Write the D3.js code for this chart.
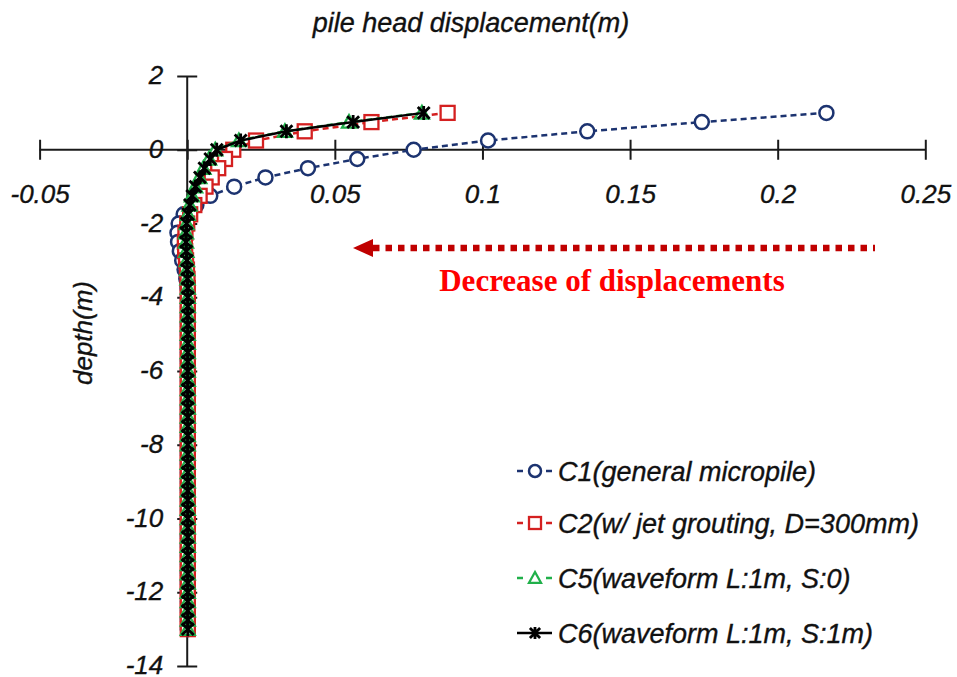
<!DOCTYPE html>
<html>
<head>
<meta charset="utf-8">
<script src="https://cdn.jsdelivr.net/npm/d3@7"></script>
<style>
	body { margin: 0; background: #fff; }
	svg { display: block; }
	.lbl { font-family: "Liberation Sans", Arial, sans-serif; font-style: italic; fill: #111; stroke: #111; stroke-width: 0.35px; }
</style>
</head>
<body>
<svg id="chart" width="957" height="677"></svg>
<script>
// depth (m) of each output node, same for all cases
const depths = [1, 0.75, 0.5, 0.25, 0, -0.25, -0.5, -0.75, -1, -1.25, -1.5, -1.75, -2, -2.25, -2.5, -2.75,
	-3, -3.25, -3.5, -3.75, -4, -4.25, -4.5, -4.75, -5, -5.25, -5.5, -5.75, -6, -6.25, -6.5, -6.75,
	-7, -7.25, -7.5, -7.75, -8, -8.25, -8.5, -8.75, -9, -9.25, -9.5, -9.75, -10, -10.25, -10.5, -10.75,
	-11, -11.25, -11.5, -11.75, -12, -12.25, -12.5, -12.75, -13];

// horizontal displacement (m)
const c1 = [0.2165, 0.1743, 0.1355, 0.1019, 0.0767, 0.0576, 0.0409, 0.0265, 0.0159, 0.0078, 0.0031, -0.0012, -0.0029, -0.0033, -0.0031, -0.0025,
	-0.0017, -0.0009, -0.0003, 0.0001, 0.0002, 0.0002, 0.0002, 0.0002, 0.0002, 0.0002, 0.0002, 0.0002, 0.0002, 0.0002, 0.0002, 0.0002,
	0.0002, 0.0002, 0.0002, 0.0002, 0.0002, 0.0002, 0.0002, 0.0002, 0.0002, 0.0002, 0.0002, 0.0002, 0.0002, 0.0002, 0.0002, 0.0002,
	0.0002, 0.0002, 0.0002, 0.0002, 0.0002, 0.0002, 0.0002, 0.0002, 0.0002];
const c2 = [0.0882, 0.0624, 0.0398, 0.0233, 0.0156, 0.0128, 0.0105, 0.0083, 0.0062, 0.0042, 0.0024, 0.0010, 0.0000, -0.0006, -0.0008, -0.0007,
	-0.0004, -0.0001, 0.0001, 0.0002, 0.0002, 0.0002, 0.0002, 0.0002, 0.0002, 0.0002, 0.0002, 0.0002, 0.0002, 0.0002, 0.0002, 0.0002,
	0.0002, 0.0002, 0.0002, 0.0002, 0.0002, 0.0002, 0.0002, 0.0002, 0.0002, 0.0002, 0.0002, 0.0002, 0.0002, 0.0002, 0.0002, 0.0002,
	0.0002, 0.0002, 0.0002, 0.0002, 0.0002, 0.0002, 0.0002, 0.0002, 0.0002];
const c5 = [0.0795, 0.0548, 0.0331, 0.0175, 0.0095, 0.0074, 0.0055, 0.0041, 0.0027, 0.0016, 0.0008, 0.0002, -0.0002, -0.0004, -0.0004, -0.0003,
	-0.0001, 0.0000, 0.0001, 0.0002, 0.0002, 0.0002, 0.0002, 0.0002, 0.0002, 0.0002, 0.0002, 0.0002, 0.0002, 0.0002, 0.0002, 0.0002,
	0.0002, 0.0002, 0.0002, 0.0002, 0.0002, 0.0002, 0.0002, 0.0002, 0.0002, 0.0002, 0.0002, 0.0002, 0.0002, 0.0002, 0.0002, 0.0002,
	0.0002, 0.0002, 0.0002, 0.0002, 0.0002, 0.0002, 0.0002, 0.0002, 0.0002];
const c6 = [0.0801, 0.0562, 0.0336, 0.0181, 0.0100, 0.0078, 0.0058, 0.0043, 0.0028, 0.0017, 0.0009, 0.0003, -0.0002, -0.0004, -0.0004, -0.0003,
	-0.0001, 0.0000, 0.0001, 0.0002, 0.0002, 0.0002, 0.0002, 0.0002, 0.0002, 0.0002, 0.0002, 0.0002, 0.0002, 0.0002, 0.0002, 0.0002,
	0.0002, 0.0002, 0.0002, 0.0002, 0.0002, 0.0002, 0.0002, 0.0002, 0.0002, 0.0002, 0.0002, 0.0002, 0.0002, 0.0002, 0.0002, 0.0002,
	0.0002, 0.0002, 0.0002, 0.0002, 0.0002, 0.0002, 0.0002, 0.0002, 0.0002];

const seriesNames = ["C1(general micropile)", "C2(w/ jet grouting, D=300mm)", "C5(waveform L:1m, S:0)", "C6(waveform L:1m, S:1m)"];
const xTicks = [-0.05, 0, 0.05, 0.1, 0.15, 0.2, 0.25];
const xTickLabels = ["-0.05", "", "0.05", "0.1", "0.15", "0.2", "0.25"];
const yTicks = [2, 0, -2, -4, -6, -8, -10, -12, -14];
const yTickLabels = ["2", "0", "-2", "-4", "-6", "-8", "-10", "-12", "-14"];

const svg = d3.select("#chart");

const x = d3.scaleLinear().domain([-0.05, 0.25]).range([39.6, 925.3]);
const y = d3.scaleLinear().domain([-14, 2]).range([666, 76]);

const series = [
	{ name: seriesNames[0], values: c1, color: "#1c3370", dash: "6,4", marker: "circle" },
	{ name: seriesNames[1], values: c2, color: "#d42020", dash: "6,4", marker: "square" },
	{ name: seriesNames[2], values: c5, color: "#20b04a", dash: "6,4", marker: "triangle" },
	{ name: seriesNames[3], values: c6, color: "#000000", dash: null, marker: "star" },
];

// marker drawing, s = half size
function drawMarker(g, type, color, s) {
	if (type === "circle") {
		g.append("circle").attr("r", s).attr("fill", "#fff").attr("stroke", color).attr("stroke-width", 2.5);
	} else if (type === "square") {
		g.append("rect").attr("x", -s).attr("y", -s).attr("width", 2 * s).attr("height", 2 * s)
			.attr("fill", "#fff").attr("stroke", color).attr("stroke-width", 2.3);
	} else if (type === "triangle") {
		g.append("path").attr("d", `M0,${-s}L${s},${s * 0.8}L${-s},${s * 0.8}Z`)
			.attr("fill", "#fff").attr("stroke", color).attr("stroke-width", 2.3);
	} else {
		const d = s * 0.85;
		g.append("path").attr("d", `M0,${-s}V${s}M${-d},${-d}L${d},${d}M${-d},${d}L${d},${-d}`)
			.attr("fill", "none").attr("stroke", color).attr("stroke-width", 2.8);
	}
}

// axes crossing at the origin
const xAxis = svg.append("g")
	.attr("transform", `translate(0,${y(0)})`)
	.call(d3.axisBottom(x).tickValues(xTicks).tickSize(10).tickFormat((d, i) => xTickLabels[i]));
xAxis.select(".domain").remove();
xAxis.selectAll(".tick line").attr("y1", -10).attr("y2", 10).attr("stroke", "#1a1a1a").attr("stroke-width", 2);
xAxis.selectAll(".tick text").attr("class", "lbl").attr("font-size", 26).attr("y", 53).attr("dy", 0);
xAxis.append("line").attr("x1", x(-0.05)).attr("x2", x(0.25)).attr("stroke", "#1a1a1a").attr("stroke-width", 2);

const yAxis = svg.append("g")
	.attr("transform", `translate(${x(0)},0)`)
	.call(d3.axisLeft(y).tickValues(yTicks).tickSize(10).tickFormat((d, i) => yTickLabels[i]));
yAxis.select(".domain").remove();
yAxis.selectAll(".tick line").attr("x1", -10).attr("x2", 10).attr("stroke", "#1a1a1a").attr("stroke-width", 2);
yAxis.selectAll(".tick text").attr("class", "lbl").attr("font-size", 26).attr("x", -24).attr("dy", "0.29em");
yAxis.append("line").attr("y1", y(2)).attr("y2", y(-14)).attr("stroke", "#1a1a1a").attr("stroke-width", 2);

// axis titles
svg.append("text").attr("class", "lbl").attr("font-size", 27)
	.attr("x", 471).attr("y", 32).attr("text-anchor", "middle")
	.text("pile head displacement(m)");
svg.append("text").attr("class", "lbl").attr("font-size", 26)
	.attr("transform", "translate(92,333) rotate(-90)").attr("text-anchor", "middle")
	.text("depth(m)");

// lines + markers
const line = d3.line().x((d) => x(d[0])).y((d) => y(d[1]));
series.forEach((s) => {
	const pts = s.values.map((v, i) => [v, depths[i]]);
	svg.append("path").datum(pts)
		.attr("d", line).attr("fill", "none").attr("stroke", s.color)
		.attr("stroke-width", 2.5).attr("stroke-dasharray", s.dash);
	svg.append("g").selectAll("g").data(pts).join("g")
		.attr("transform", (d) => `translate(${x(d[0])},${y(d[1])})`)
		.each(function () { drawMarker(d3.select(this), s.marker, s.color, 7); });
});

// annotation arrow
svg.append("line").attr("x1", 373).attr("x2", 875).attr("y1", 248).attr("y2", 248)
	.attr("stroke", "#c00000").attr("stroke-width", 6.5).attr("stroke-dasharray", "6.5,6");
svg.append("path").attr("d", "M353,248L373,239L373,257Z").attr("fill", "#c00000");
svg.append("text").attr("x", 612).attr("y", 291).attr("text-anchor", "middle")
	.attr("font-family", "'Liberation Serif', 'Times New Roman', serif").attr("font-weight", "bold")
	.attr("font-size", 31).attr("fill", "#ff0000")
	.text("Decrease of displacements");

// legend
const legendY = [471, 523, 578, 633];
const legend = svg.append("g");
series.forEach((s, i) => {
	const g = legend.append("g").attr("transform", `translate(0,${legendY[i]})`);
	g.append("line").attr("x1", 517).attr("x2", 552).attr("stroke", s.color).attr("stroke-width", 2.4)
		.attr("stroke-dasharray", s.dash ? "6,23" : null);
	drawMarker(g.append("g").attr("transform", "translate(535,0)"), s.marker, s.color, 6);
	g.append("text").attr("class", "lbl").attr("font-size", 27).attr("x", 558).attr("y", 9.5).text(s.name);
});
</script>
</body>
</html>
